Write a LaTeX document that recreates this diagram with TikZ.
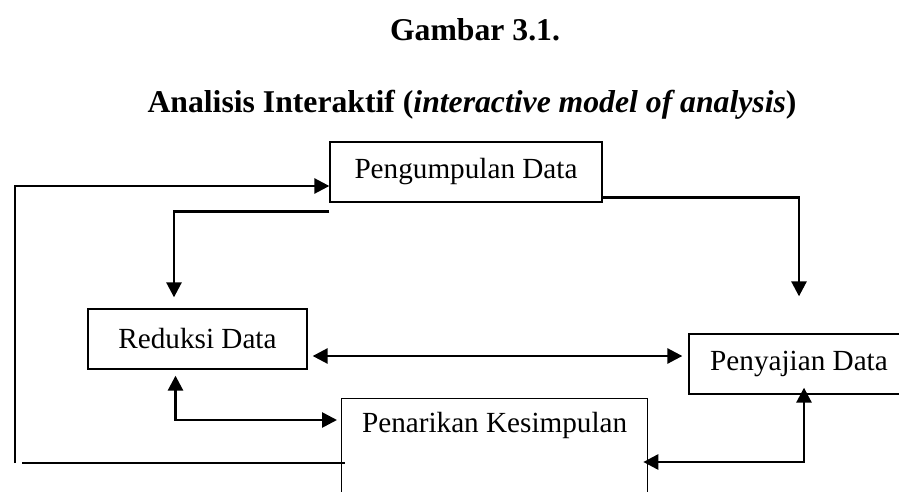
\documentclass[tikz,border=0pt]{standalone}
\usepackage{fontspec}
\setmainfont{Liberation Serif}
\usetikzlibrary{arrows.meta}
\begin{document}
\begin{tikzpicture}[x=1pt,y=-1pt,>={Triangle[length=15pt,width=15pt]},
  box/.style={rectangle,draw=black,fill=white,line width=1.3pt,minimum height=60pt,inner sep=0pt,font=\fontsize{29.2pt}{34pt}\selectfont},
  txt/.style={inner sep=0pt,font=\fontsize{29.2pt}{34pt}\selectfont},
  flow/.style={line width=2.7pt}]
\useasboundingbox (0,0) rectangle (899,492);
\clip (0,0) rectangle (899,492);

\node (judul) at (475,41)[anchor=base,font=\fontsize{31.7pt}{38pt}\selectfont\bfseries]{Gambar 3.1.};
\node (subjudul) at (472,113)[anchor=base,font=\fontsize{31.7pt}{38pt}\selectfont\bfseries]{Analisis Interaktif (\textit{interactive model of analysis})};

\node (pd) at (466,172)[box,minimum width=272pt]{Pengumpulan Data};
\node (rd) at (197.5,339)[box,minimum width=219pt]{Reduksi Data};
\node (sd) at (799,364)[box,minimum width=220pt]{Penyajian Data};
\node (pk) at (341,398)[box,anchor=north west,minimum width=306pt,minimum height=160pt]{};
\node (pkt) at ([yshift=-27pt]pk.north)[txt]{Penarikan Kesimpulan};

\coordinate (fb) at (15,463);
\coordinate (bl) at (22,463);

\draw[flow,->](fb) |- ([yshift=-14pt]pd.west);
\draw[flow](bl) -- ([xshift=4pt]pk.west |- bl);
\draw[flow,->]([yshift=-9pt]pd.south west) -| ([xshift=-23.5pt,yshift=11pt]rd.north);
\draw[flow,->]([yshift=5pt]pd.south east) -| ([yshift=37pt]sd.north);
\draw[flow,<->]([xshift=5pt,yshift=-17pt]rd.east) -- ([xshift=-6pt,yshift=8pt]sd.west);
\draw[flow,<->]([xshift=-22pt,yshift=-6pt]rd.south) |- ([xshift=-4pt,yshift=-22pt]pk.north west);
\draw[flow,<->]([xshift=5pt,yshift=7pt]sd.south) |- ([xshift=-5pt,yshift=-64pt]pk.north east);
\end{tikzpicture}
\end{document}
